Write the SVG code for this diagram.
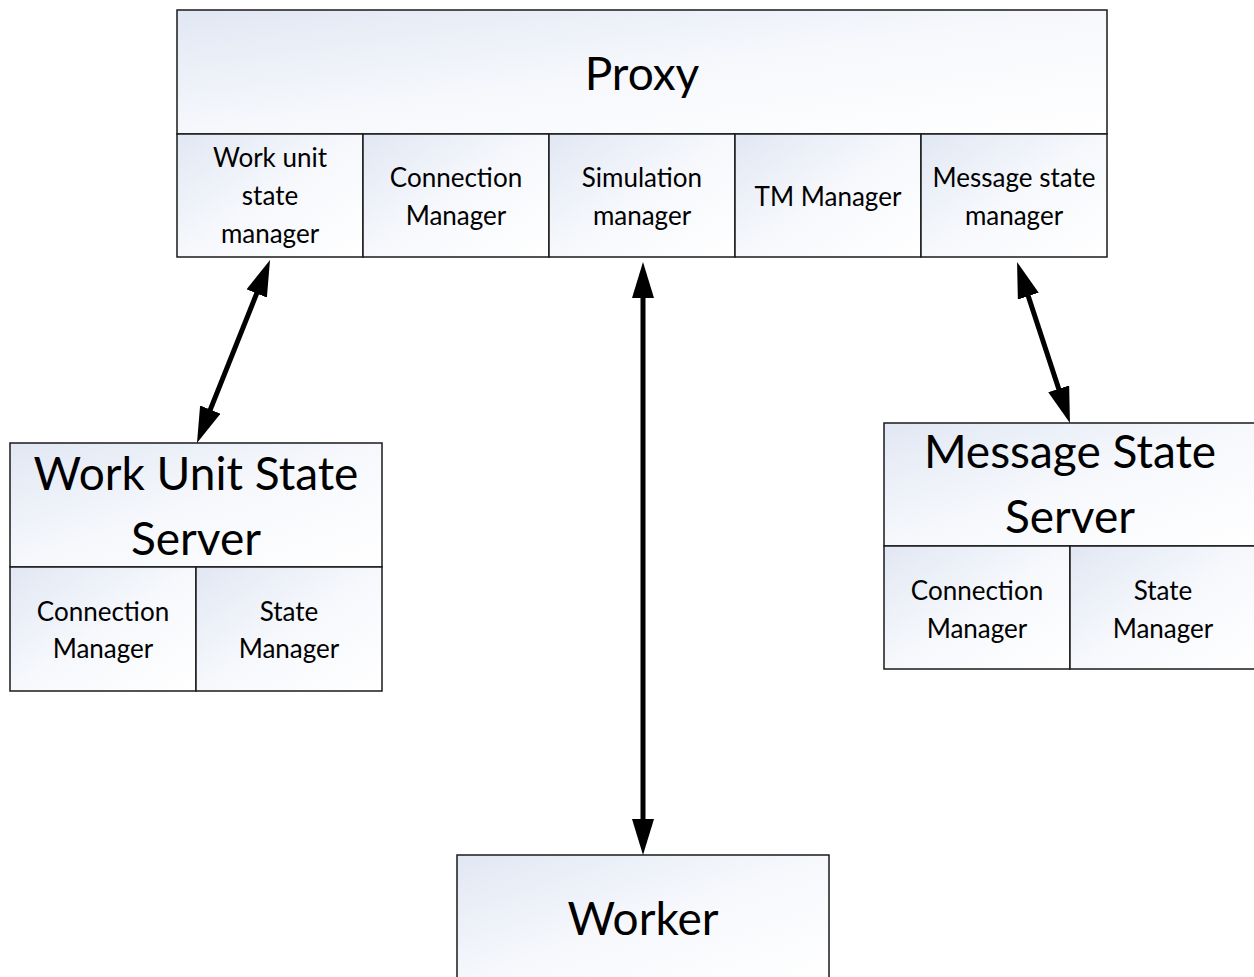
<svg xmlns="http://www.w3.org/2000/svg" width="1254" height="977" viewBox="0 0 1254 977">
<style>
.cell{fill:url(#g);stroke:#1a1a1a;stroke-width:1.5}
.t{font-family:Lato,"Open Sans","Liberation Sans",sans-serif;fill:#000;text-anchor:middle}
.big{font-size:46px}
.sm{font-size:26px}
.conn{stroke:#000;stroke-width:5;fill:none;marker-start:url(#ah);marker-end:url(#ah)}
</style>
<defs>
<linearGradient id="g" x1="0" y1="0" x2="1" y2="1">
<stop offset="0" stop-color="#e1e7f3"/>
<stop offset="0.5" stop-color="#f6f8fc"/>
<stop offset="1" stop-color="#ffffff"/>
</linearGradient>
<marker id="ah" viewBox="0 0 36 22" refX="16" refY="11" markerWidth="36" markerHeight="22" markerUnits="userSpaceOnUse" orient="auto-start-reverse">
<path d="M0,0 L36,11 L0,22 z" fill="#000"/>
</marker>
</defs>
<rect width="1254" height="977" fill="#fff"/>
<g id="proxy">
<rect class="cell" x="177" y="10" width="930" height="124"/>
<text class="t big" x="642" y="90">Proxy</text>
<rect class="cell" x="177" y="134" width="186" height="123"/>
<text class="t sm" x="270" y="167">Work unit</text>
<text class="t sm" x="270" y="205">state</text>
<text class="t sm" x="270" y="243">manager</text>
<rect class="cell" x="363" y="134" width="186" height="123"/>
<text class="t sm" x="456" y="187">Connection</text>
<text class="t sm" x="456" y="225">Manager</text>
<rect class="cell" x="549" y="134" width="186" height="123"/>
<text class="t sm" x="642" y="187">Simulation</text>
<text class="t sm" x="642" y="225">manager</text>
<rect class="cell" x="735" y="134" width="186" height="123"/>
<text class="t sm" x="828" y="206">TM Manager</text>
<rect class="cell" x="921" y="134" width="186" height="123"/>
<text class="t sm" x="1014" y="187">Message state</text>
<text class="t sm" x="1014" y="225">manager</text>
</g>
<g id="work-unit-state-server">
<rect class="cell" x="10" y="443" width="372" height="124"/>
<text class="t big" x="196" y="490">Work Unit State</text>
<text class="t big" x="196" y="555">Server</text>
<rect class="cell" x="10" y="567" width="186" height="124"/>
<text class="t sm" x="103" y="621">Connection</text>
<text class="t sm" x="103" y="658">Manager</text>
<rect class="cell" x="196" y="567" width="186" height="124"/>
<text class="t sm" x="289" y="621">State</text>
<text class="t sm" x="289" y="658">Manager</text>
</g>
<g id="message-state-server">
<rect class="cell" x="884" y="423" width="372" height="123"/>
<text class="t big" x="1070" y="468">Message State</text>
<text class="t big" x="1070" y="533">Server</text>
<rect class="cell" x="884" y="546" width="186" height="123"/>
<text class="t sm" x="977" y="600">Connection</text>
<text class="t sm" x="977" y="638">Manager</text>
<rect class="cell" x="1070" y="546" width="186" height="123"/>
<text class="t sm" x="1163" y="600">State</text>
<text class="t sm" x="1163" y="638">Manager</text>
</g>
<g id="worker">
<rect class="cell" x="457" y="855" width="372" height="130"/>
<text class="t big" x="643" y="935">Worker</text>
</g>
<g id="connectors">
<line class="conn" x1="262.6" y1="278.6" x2="204.4" y2="424.4"/>
<line class="conn" x1="643" y1="282" x2="643" y2="835"/>
<line class="conn" x1="1023.3" y1="281" x2="1063.7" y2="404"/>
</g>
</svg>
